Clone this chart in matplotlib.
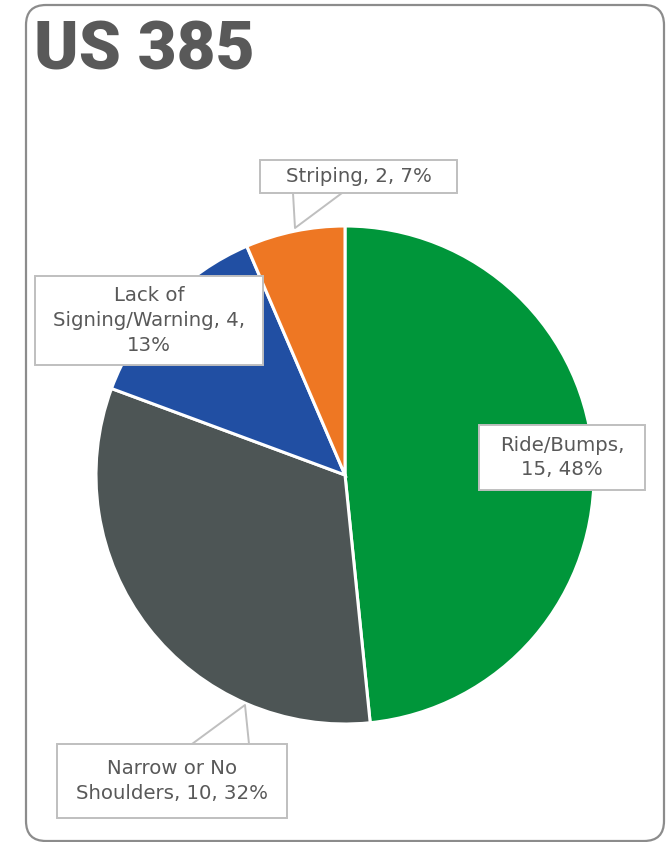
import matplotlib
matplotlib.use("Agg")
import matplotlib.pyplot as plt
from matplotlib.patches import FancyBboxPatch, Rectangle

W, H = 672, 842

labels = ["Ride/Bumps", "Narrow or No Shoulders", "Lack of Signing/Warning", "Striping"]
counts = [15, 10, 4, 2]
colors = ["#00963A", "#4D5555", "#214FA3", "#EE7723"]

# callout text as shown on the chart
callout_text = [
    "Ride/Bumps,\n15, 48%",
    "Narrow or No\nShoulders, 10, 32%",
    "Lack of\nSigning/Warning, 4,\n13%",
    "Striping, 2, 7%",
]

TEXT = "#595959"
BOX_EDGE = "#BFBFBF"

fig = plt.figure(figsize=(W / 100, H / 100), dpi=100)
ax = fig.add_axes([0, 0, 1, 1])
ax.set_xlim(0, W)
ax.set_ylim(0, H)
ax.set_aspect("equal")
ax.axis("off")


def fy(y):
    # image rows run downward, axes y runs upward
    return H - y


# rounded outer frame
frame = FancyBboxPatch((26, fy(841)), 638, 836,
                       boxstyle="round,pad=0,rounding_size=20",
                       facecolor="white", edgecolor="#8C8C8C", linewidth=1.6, zorder=0)
ax.add_patch(frame)

ax.text(34, fy(51), "US 385", fontsize=48.5, fontweight="black", family="Roboto",
        color=TEXT, ha="left", va="center")

ax.pie(counts, colors=colors, startangle=90, counterclock=False,
       center=(345, fy(475)), radius=249,
       wedgeprops=dict(edgecolor="white", linewidth=2.2), frame=True)
ax.set_xlim(0, W)
ax.set_ylim(0, H)
ax.axis("off")

# callout boxes: (x0, y0, x1, y1) in pixels
boxes = [
    (479, 425, 645, 490),
    (57, 744, 287, 818),
    (35, 276, 263, 365),
    (260, 160, 457, 193),
]

# leader wedges: base points on the box edge and tip on the pie
leaders = {
    3: [(293, 193), (295, 228), (342, 193)],
    1: [(192, 744), (245, 705), (249, 744)],
}
for i, pts in leaders.items():
    xs = [p[0] for p in pts]
    ys = [fy(p[1]) for p in pts]
    ax.plot(xs, ys, color=BOX_EDGE, linewidth=1.4, zorder=4, solid_capstyle="round")

for (x0, y0, x1, y1), txt in zip(boxes, callout_text):
    ax.add_patch(Rectangle((x0, fy(y1)), x1 - x0, y1 - y0, facecolor="white",
                           edgecolor=BOX_EDGE, linewidth=1.4, zorder=5))
    ax.text((x0 + x1) / 2, fy((y0 + y1) / 2), txt, fontsize=14.2, color=TEXT,
            ha="center", va="center", linespacing=1.38, zorder=6,
            family="DejaVu Sans")

fig.savefig("out.png", dpi=100)
